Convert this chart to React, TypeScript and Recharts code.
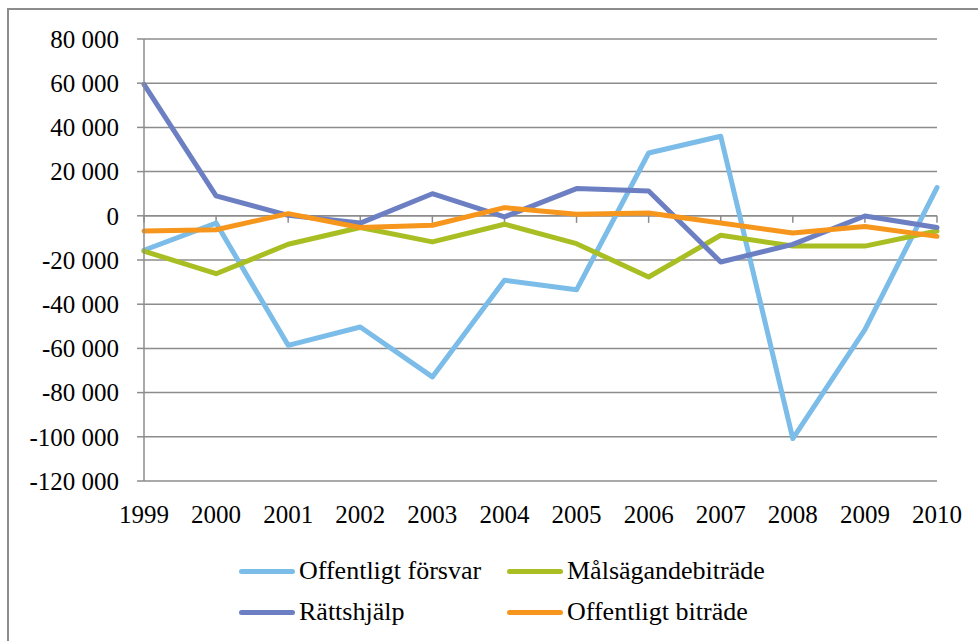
import React from 'react';
import { LineChart, Line, XAxis, YAxis, CartesianGrid, ReferenceLine } from 'recharts';

// values
const years = ['1999', '2000', '2001', '2002', '2003', '2004', '2005', '2006', '2007', '2008', '2009', '2010'];
const offentligtForsvar = [-15600, -3300, -58600, -50300, -72900, -29200, -33500, 28400, 36000, -100800, -51500, 12800];
const malsagandebitrade = [-16000, -26200, -12900, -5300, -11800, -3800, -12600, -27700, -8800, -13700, -13700, -6900];
const rattshjalp = [59500, 9000, 200, -3300, 10000, -500, 12300, 11200, -20900, -12900, -100, -5300];
const offentligtBitrade = [-6900, -6300, 1000, -5300, -4300, 3700, 700, 1300, -3300, -7800, -4800, -9300];
const yTicks = [-120000, -100000, -80000, -60000, -40000, -20000, 0, 20000, 40000, 60000, 80000];

const series = [
  { key: 'forsvar', name: 'Offentligt försvar', color: '#7bbce8', values: offentligtForsvar },
  { key: 'malsagande', name: 'Målsägandebiträde', color: '#a9be22', values: malsagandebitrade },
  { key: 'rattshjalp', name: 'Rättshjälp', color: '#6c7fc2', values: rattshjalp },
  { key: 'bitrade', name: 'Offentligt biträde', color: '#f7961c', values: offentligtBitrade },
];

const data = years.map((year, i) => {
  const row: Record<string, string | number> = { year };
  series.forEach((s) => {
    row[s.key] = s.values[i];
  });
  return row;
});

const fmt = (v: number) => {
  const s = String(Math.abs(v)).replace(/\B(?=(\d{3})+(?!\d))/g, ' ');
  return v < 0 ? '-' + s : s;
};

const font = "'Liberation Serif', 'Times New Roman', Tinos, 'DejaVu Serif', serif";
const gray = '#8c8c8c';

function LegendItem({ name, color }: { name: string; color: string }) {
  return (
    <div style={{ display: 'flex', alignItems: 'center', width: 268 }}>
      <div style={{ width: 56, height: 5, borderRadius: 3, background: color, marginRight: 4 }} />
      <span style={{ fontSize: 26, color: '#000', lineHeight: '30px', fontFamily: font }}>{name}</span>
    </div>
  );
}

export default function App() {
  return (
    <div style={{ position: 'absolute', left: 0, top: 0, width: 978, height: 641, overflow: 'hidden', background: '#fff', fontFamily: font }}>
      <div style={{ position: 'absolute', left: 7, top: 8, width: 1000, height: 700, borderLeft: `2px solid ${gray}`, borderTop: `2px solid ${gray}` }} />
      <LineChart width={978} height={641} data={data} margin={{ top: 39, right: 41, bottom: 120, left: 0 }} style={{ position: 'absolute', left: 0, top: 0, fontFamily: font }}>
        <CartesianGrid vertical={false} stroke={gray} strokeWidth={1.5} />
        <XAxis
          dataKey="year"
          interval={0}
          axisLine={false}
          tickLine={false}
          tickSize={0}
          tickMargin={24}
          height={40}
          tick={{ fill: '#000', fontSize: 25, fontFamily: font }}
        />
        <YAxis
          domain={[-120000, 80000]}
          ticks={yTicks}
          width={144}
          tickFormatter={fmt}
          axisLine={{ stroke: gray, strokeWidth: 1.5 }}
          tickLine={{ stroke: gray, strokeWidth: 1.5 }}
          tickSize={7}
          tickMargin={18}
          tick={{ fill: '#000', fontSize: 25, fontFamily: font }}
        />
        <ReferenceLine y={0} stroke={gray} strokeWidth={1.5} />
        {years.map((y) => (
          <ReferenceLine key={y} segment={[{ x: y, y: 0 }, { x: y, y: -3200 }]} stroke={gray} strokeWidth={1.5} />
        ))}
        {series.map((s) => (
          <Line
            key={s.key}
            dataKey={s.key}
            name={s.name}
            type="linear"
            stroke={s.color}
            strokeWidth={5}
            strokeLinejoin="round"
            strokeLinecap="round"
            dot={false}
            activeDot={false}
            isAnimationActive={false}
          />
        ))}
      </LineChart>
      <div style={{ position: 'absolute', left: 239, top: 556, display: 'flex', flexWrap: 'wrap', width: 540, rowGap: 11 }}>
        {series.map((s) => (
          <LegendItem key={s.key} name={s.name} color={s.color} />
        ))}
      </div>
    </div>
  );
}
